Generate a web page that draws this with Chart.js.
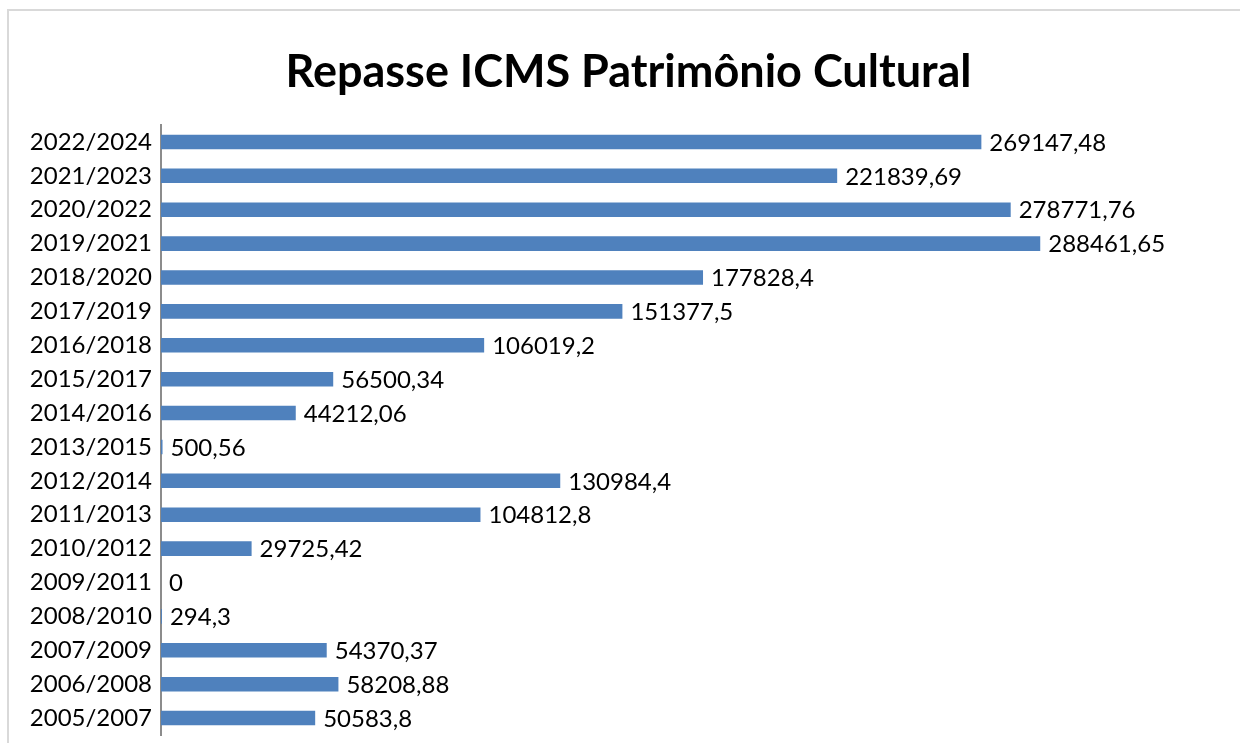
<!DOCTYPE html>
<html>
<head>
<meta charset="utf-8">
<script src="https://cdn.jsdelivr.net/npm/chart.js@4/dist/chart.umd.min.js"></script>
<style>
  html, body { margin: 0; padding: 0; background: #fff; overflow: hidden; }
  #frame {
    position: absolute; left: 7px; top: 9px; width: 1260px; height: 760px;
    border: 2px solid #d9d9d9; box-sizing: border-box;
  }
  #wrap { position: absolute; left: 0; top: 0; width: 1240px; height: 743px; }
</style>
</head>
<body>
<div id="frame"></div>
<div id="wrap"><canvas id="myChart" width="1240" height="743"></canvas></div>
<script>
// periods, oldest first (drawn bottom to top)
const periods = [
  "2005/2007", "2006/2008", "2007/2009", "2008/2010", "2009/2011", "2010/2012",
  "2011/2013", "2012/2014", "2013/2015", "2014/2016", "2015/2017", "2016/2018",
  "2017/2019", "2018/2020", "2019/2021", "2020/2022", "2021/2023", "2022/2024",
];
// repasse values (R$)
const repasse = [
  50583.8, 58208.88, 54370.37, 294.3, 0, 29725.42,
  104812.8, 130984.4, 500.56, 44212.06, 56500.34, 106019.2,
  151377.5, 177828.4, 288461.65, 278771.76, 221839.69, 269147.48,
];

const labelFont = { family: "Lato, 'Open Sans', sans-serif", size: 24 };

// number with decimal comma, no thousands separator
const fmt = (v) => String(v).replace(".", ",");

// writes the value at the end of each bar
const valueLabels = {
  id: "valueLabels",
  afterDatasetsDraw(chart) {
    const ctx = chart.ctx;
    const meta = chart.getDatasetMeta(0);
    ctx.save();
    ctx.font = labelFont.size + "px " + labelFont.family;
    ctx.fillStyle = "#000";
    ctx.textAlign = "left";
    ctx.textBaseline = "middle";
    meta.data.forEach((bar, i) => {
      ctx.fillText(fmt(repasse[i]), bar.x + 8, bar.y + 1);
    });
    ctx.restore();
  },
};

const ctx = document.getElementById("myChart");
const chart = new Chart(ctx, {
  type: "bar",
  data: {
    labels: periods,
    datasets: [
      {
        label: "Repasse",
        data: repasse,
        backgroundColor: "#4F81BD",
        borderWidth: 0,
        barPercentage: 0.43,
        categoryPercentage: 1,
      },
    ],
  },
  options: {
    indexAxis: "y",
    responsive: false,
    animation: false,
    layout: { padding: { left: 17, right: 0, top: 0, bottom: 8 } },
    plugins: {
      legend: { display: false },
      tooltip: { enabled: false },
      title: {
        display: true,
        text: "Repasse ICMS Patrimônio Cultural",
        color: "#000",
        font: { family: "Lato, 'Open Sans', sans-serif", size: 45, weight: "bold", lineHeight: 1.2 },
        padding: { top: 45, bottom: 26 },
      },
    },
    scales: {
      x: {
        display: false,
        min: 0,
        max: 354000,
      },
      y: {
        reverse: true,
        grid: { display: false, drawTicks: false },
        border: { display: true, color: "#8c8c8c", width: 2 },
        ticks: { color: "#000", font: labelFont, padding: 9 },
        afterFit(scale) {
          scale.width = 144;
          scale.paddingTop = 0;
          scale.paddingBottom = 0;
        },
      },
    },
  },
  plugins: [valueLabels],
});
</script>
</body>
</html>
